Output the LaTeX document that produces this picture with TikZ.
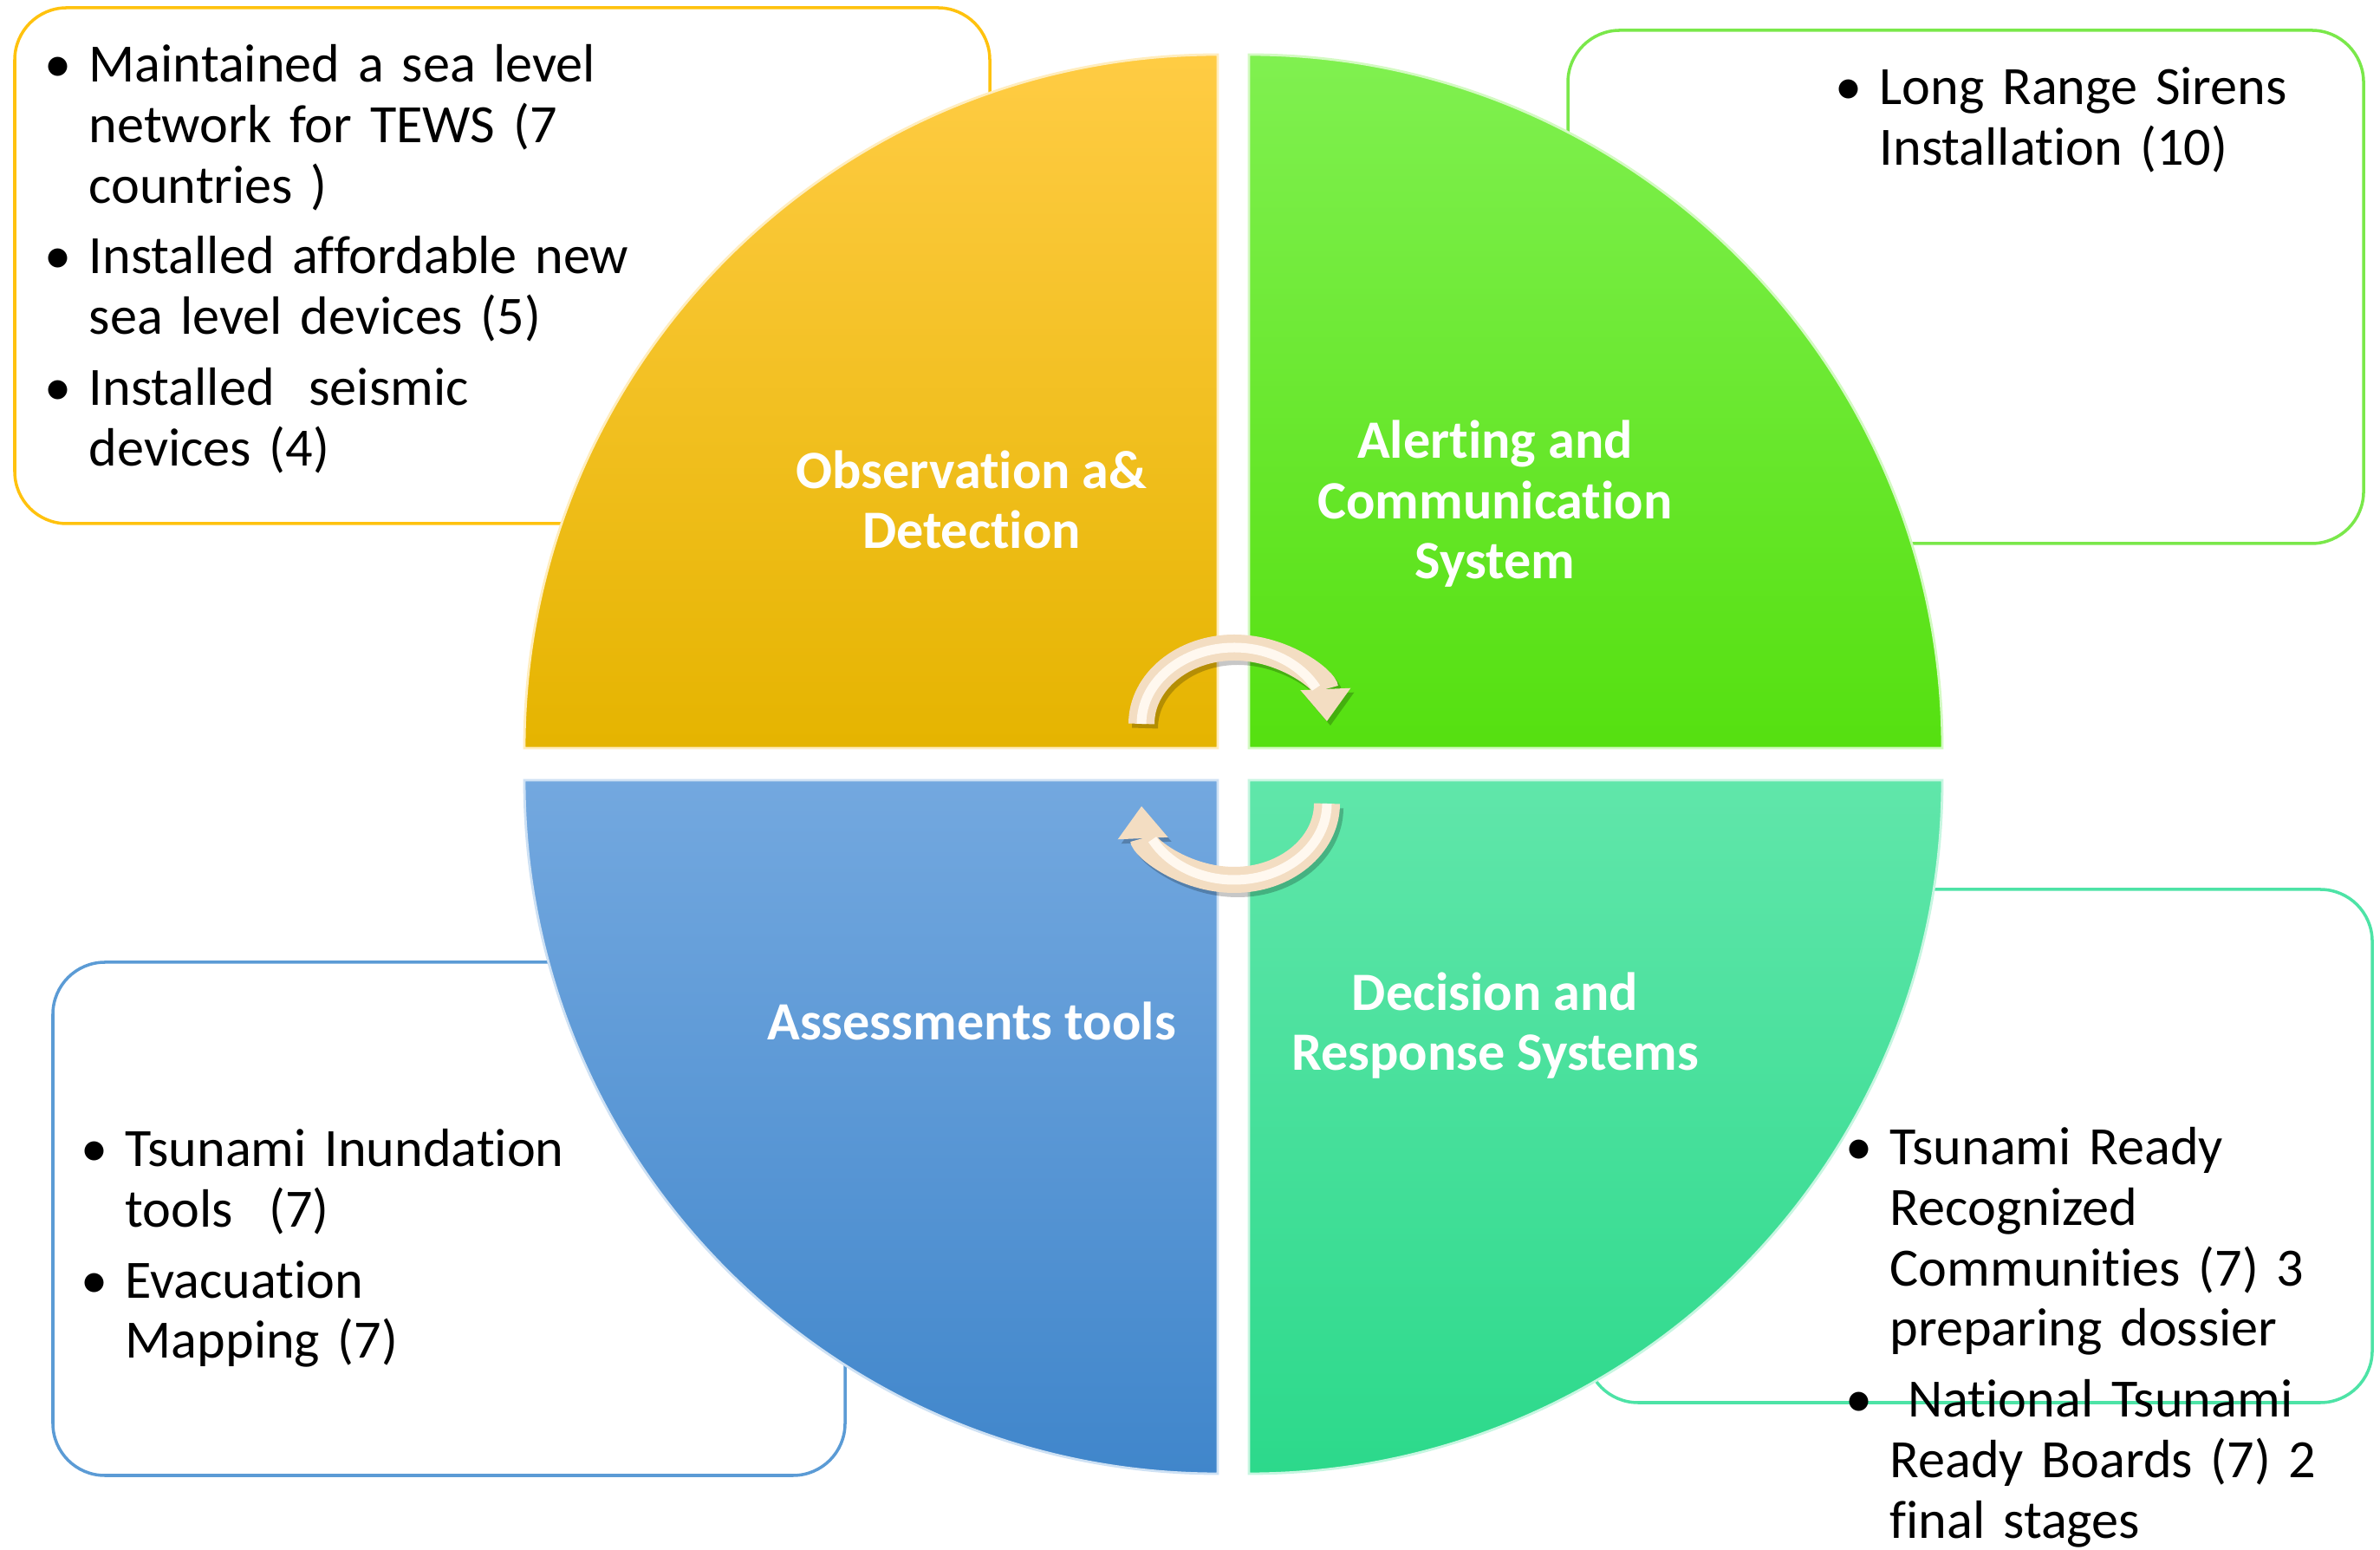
\documentclass[tikz,border=0pt]{standalone}
\usepackage{fontspec}
\setmainfont{Carlito}[Ligatures=NoCommon]
\usepackage{enumitem}
\usetikzlibrary{arrows.meta,calc}
\definecolor{obsgoldtop}{HTML}{FFCC44}
\definecolor{obsgoldbot}{HTML}{E5B400}
\definecolor{obsgoldline}{HTML}{FFC20E}
\definecolor{alertlimetop}{HTML}{80F050}
\definecolor{alertlimebot}{HTML}{55E010}
\definecolor{alertlimeline}{HTML}{7AE84A}
\definecolor{assessbluetop}{HTML}{73A8DF}
\definecolor{assessbluebot}{HTML}{4086CB}
\definecolor{assessblueline}{HTML}{5B9BD5}
\definecolor{decisiontealtop}{HTML}{60E6AA}
\definecolor{decisiontealbot}{HTML}{2CD98B}
\definecolor{decisiontealline}{HTML}{4DE3A6}
\definecolor{cyclecream}{HTML}{F3DDC2}
\definecolor{cyclelight}{HTML}{FFF8EF}
\newlist{bullets}{itemize}{1}
\setlist[bullets]{label=\textbullet, leftmargin=0.45cm, labelsep=0.2cm,
  itemsep=0.12cm, parsep=0pt, topsep=0pt, partopsep=0pt}
\tikzset{
  infobox/.style={rounded corners=0.6cm, line width=1pt, fill=white},
  quadrant/.style={line width=0.8pt},
  itemtext/.style={
    anchor=base west,
    inner sep=0pt,
    text width=9cm,
    align=left,
    font=\fontsize{17.7}{19.84}\selectfont
  },
  quadlabel/.style={
    anchor=base,
    inner sep=0pt,
    align=center,
    text=white,
    font=\fontsize{17.7}{19.84}\selectfont\bfseries
  },
  cyclearrow/.style={line width=0.3cm, draw=cyclecream,
    -{Triangle[width=0.58cm, length=0.37cm, line width=0pt]}},
  cycleshine/.style={line width=0.11cm, draw=cyclelight},
  cycleshadow/.style={line width=0.3cm, draw=black, opacity=0.22,
    -{Triangle[width=0.58cm, length=0.37cm, line width=0pt]}}
}
\begin{document}
\begin{tikzpicture}
\fill[white] (0,0) rectangle (27.46,17.87);
\useasboundingbox (0,0) rectangle (27.46,17.87);

% Note boxes
\draw[infobox, draw=obsgoldline] (0.17,11.83) rectangle (11.42,17.78);
\draw[infobox, draw=alertlimeline] (18.09,11.60) rectangle (27.27,17.52);
\draw[infobox, draw=assessblueline] (0.61,0.85) rectangle (9.75,6.77);
\draw[infobox, draw=decisiontealline] (18.30,1.69) rectangle (27.37,7.61);

% Quadrants
\coordinate (c) at (14.23,9.055);
\draw[quadrant, draw=obsgoldtop!35!white, top color=obsgoldtop, bottom color=obsgoldbot]
  ($(c)+(-0.18,0.185)$) -- ++(-8,0) arc[start angle=180, end angle=90, radius=8] -- cycle;
\draw[quadrant, draw=alertlimetop!35!white, top color=alertlimetop, bottom color=alertlimebot]
  ($(c)+(0.18,0.185)$) -- ++(0,8) arc[start angle=90, end angle=0, radius=8] -- cycle;
\draw[quadrant, draw=assessbluetop!35!white, top color=assessbluetop, bottom color=assessbluebot]
  ($(c)+(-0.18,-0.185)$) -- ++(0,-8) arc[start angle=270, end angle=180, radius=8] -- cycle;
\draw[quadrant, draw=decisiontealtop!35!white, top color=decisiontealtop, bottom color=decisiontealbot]
  ($(c)+(0.18,-0.185)$) -- ++(8,0) arc[start angle=0, end angle=-90, radius=8] -- cycle;

% Cycle arrows
\coordinate (cyc-top) at (13.17,9.52);
\coordinate (cyc-bot) at (15.31,8.60);
\draw[cycleshadow] ([shift={(0.04,-0.05)}]cyc-top) arc[start angle=180, end angle=2, x radius=1.07, y radius=0.88];
\draw[cycleshadow] ([shift={(0.04,-0.05)}]cyc-bot) arc[start angle=0, end angle=-178, x radius=1.07, y radius=0.88];
\draw[cyclearrow] (cyc-top) arc[start angle=180, end angle=2, x radius=1.07, y radius=0.88];
\draw[cyclearrow] (cyc-bot) arc[start angle=0, end angle=-178, x radius=1.07, y radius=0.88];
\draw[cycleshine] (cyc-top) arc[start angle=180, end angle=28, x radius=1.07, y radius=0.88];
\draw[cycleshine] (cyc-bot) arc[start angle=0, end angle=-152, x radius=1.07, y radius=0.88];

% Quadrant labels
\node[quadlabel] (obs-label) at (11.21,11.54) {Observation a\&\\Detection};
\node[quadlabel] (alert-label) at (17.25,11.19) {Alerting and\\Communication\\System};
\node[quadlabel] (assess-label) at (11.21,5.87) {Assessments tools};
\node[quadlabel] (decision-label) at (17.25,5.52) {Decision and\\Response Systems};

% Notes
\node[itemtext] (obs-notes) at (0.57,17.62) {\begin{bullets}
  \item Maintained a sea level\\network for TEWS (7\\countries )
  \item Installed affordable new\\sea level devices (5)
  \item Installed\hspace{0.4cm}seismic\\devices (4)
\end{bullets}};
\node[itemtext] (alert-notes) at (21.23,17.36) {\begin{bullets}
  \item Long Range Sirens\\Installation (10)
\end{bullets}};
\node[itemtext] (assess-notes) at (0.99,5.11) {\begin{bullets}
  \item Tsunami Inundation\\tools\ \ (7)
  \item Evacuation\\Mapping (7)
\end{bullets}};
\node[itemtext] (decision-notes) at (21.35,5.13) {\begin{bullets}
  \item Tsunami Ready\\Recognized\\Communities (7) 3\\preparing dossier
  \item \ National Tsunami\\Ready Boards (7) 2\\final stages
\end{bullets}};

\end{tikzpicture}
\end{document}
